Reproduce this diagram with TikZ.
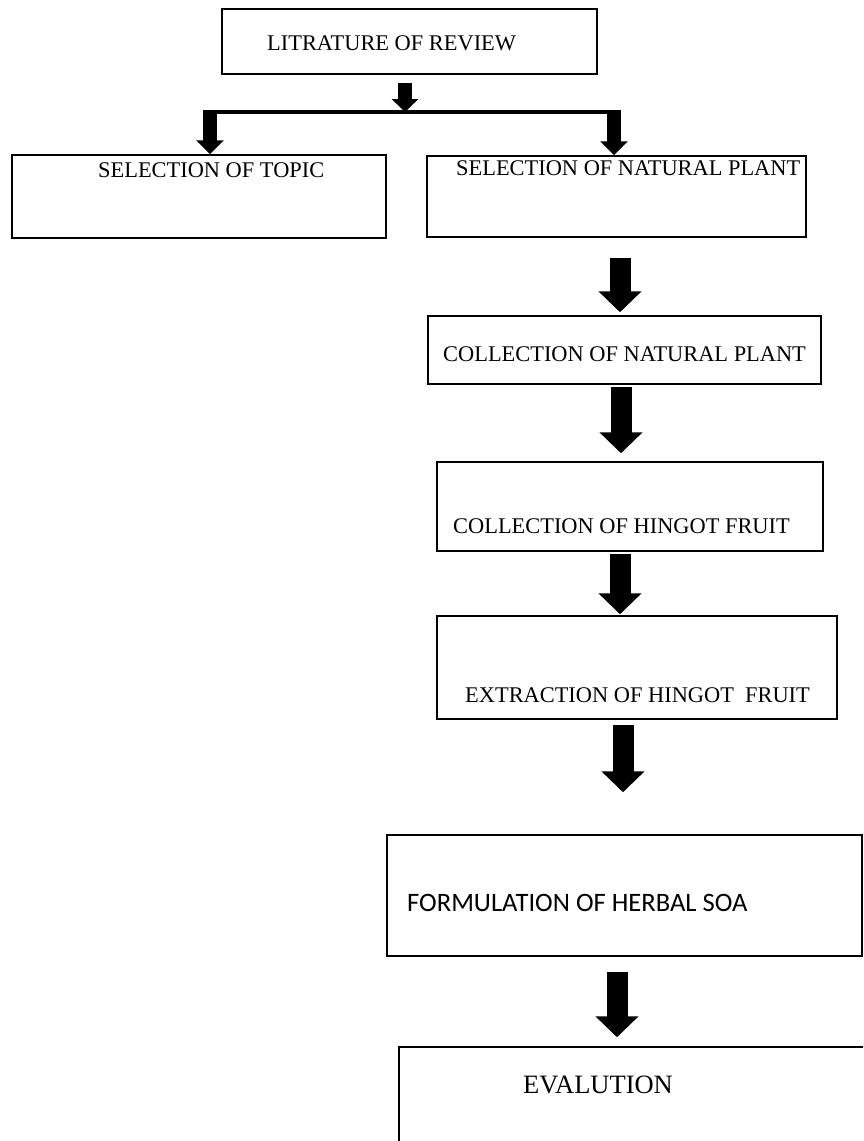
\documentclass[tikz,border=0pt]{standalone}
\usepackage{fontspec}
\setmainfont{Liberation Serif}
\newfontfamily\calibri{Carlito}
\usetikzlibrary{arrows.meta}
\tikzset{
 box/.style={draw,line width=1.5pt,inner sep=0pt,minimum width=#1},
 lbl/.style={inner sep=0pt,anchor=base west,font=\fontsize{22.4}{26}\selectfont},
 blockarrow/.style={line width=21pt,-{Triangle[width=42pt,length=21pt]}},
 forkarrow/.style={line width=14pt,-{Triangle[width=27pt,length=14pt]}}
}
\begin{document}
\begin{tikzpicture}[x=1pt,y=-1pt]
 \useasboundingbox[fill=white] (0,0) rectangle (863,1141);
 \clip (0,0) rectangle (863,1141);
 \node[box=375pt,minimum height=65pt] (lit) at (409.5,41.5) {};
 \node[box=374pt,minimum height=83pt] (topic) at (199,196.5) {};
 \node[box=379pt,minimum height=81pt] (nat) at (616.5,196.5) {};
 \node[box=393pt,minimum height=68pt] (coll) at (624.5,350) {};
 \node[box=386pt,minimum height=89pt] (hing) at (630,506.5) {};
 \node[box=400pt,minimum height=103pt] (extr) at (637,667.5) {};
 \node[box=475pt,minimum height=121pt] (form) at (624.5,895.5) {};
 \node[box=481pt,minimum height=113pt] (eval) at (639.5,1103.5) {};
 \node[lbl] (lit-t) at (267,50) {LITRATURE OF REVIEW};
 \node[lbl] (topic-t) at (98,177) {SELECTION OF TOPIC};
 \node[lbl] (nat-t) at (456,175) {SELECTION OF NATURAL PLANT};
 \node[lbl] (coll-t) at (443,361) {COLLECTION OF NATURAL PLANT};
 \node[lbl] (hing-t) at (453,533) {COLLECTION OF HINGOT FRUIT};
 \node[lbl] (extr-t) at (465,702) {EXTRACTION OF HINGOT\ \ FRUIT};
 \node[lbl,font=\calibri\fontsize{26.6}{30}\selectfont] (form-t) at (407,911) {FORMULATION OF HERBAL SOA};
 \node[lbl,font=\fontsize{26.5}{30}\selectfont] (eval-t) at (523,1093) {EVALUTION};
 \coordinate (barL) at (210,112);
 \coordinate (barR) at (614,112);
 \draw[line width=4.5pt] ([xshift=-7pt]barL) -- ([xshift=6pt]barR);
 \draw[line width=14pt,-{Triangle[width=26pt,length=13pt]}] ([xshift=-4.5pt,yshift=-8pt]lit.south) -- ([xshift=-4.5pt]lit.south |- barL);
 \draw[forkarrow] ([yshift=2pt]barL) -- (barL |- topic.north);
 \draw[forkarrow] ([yshift=2pt]barR) -- (barR |- nat.north);
 \coordinate (a1) at ([xshift=3.5pt]nat.south);
 \coordinate (a2) at ([xshift=-3.5pt]coll.south);
 \coordinate (a3) at ([xshift=-10pt]hing.south);
 \coordinate (a4) at ([xshift=-14pt]extr.south);
 \coordinate (a5) at ([xshift=-7.5pt]form.south);
 \draw[blockarrow,shorten >=3pt] ([yshift=-20pt]a1) -- (a1 |- coll.north);
 \draw[blockarrow,shorten >=8pt] ([yshift=-2pt]a2) -- (a2 |- hing.north);
 \draw[blockarrow,shorten >=1pt] ([yshift=-2pt]a3) -- (a3 |- extr.north);
 \draw[blockarrow,shorten >=42pt] ([yshift=-5pt]a4) -- (a4 |- form.north);
 \draw[blockarrow,shorten >=9pt] ([yshift=-15pt]a5) -- (a5 |- eval.north);
\end{tikzpicture}
\end{document}
